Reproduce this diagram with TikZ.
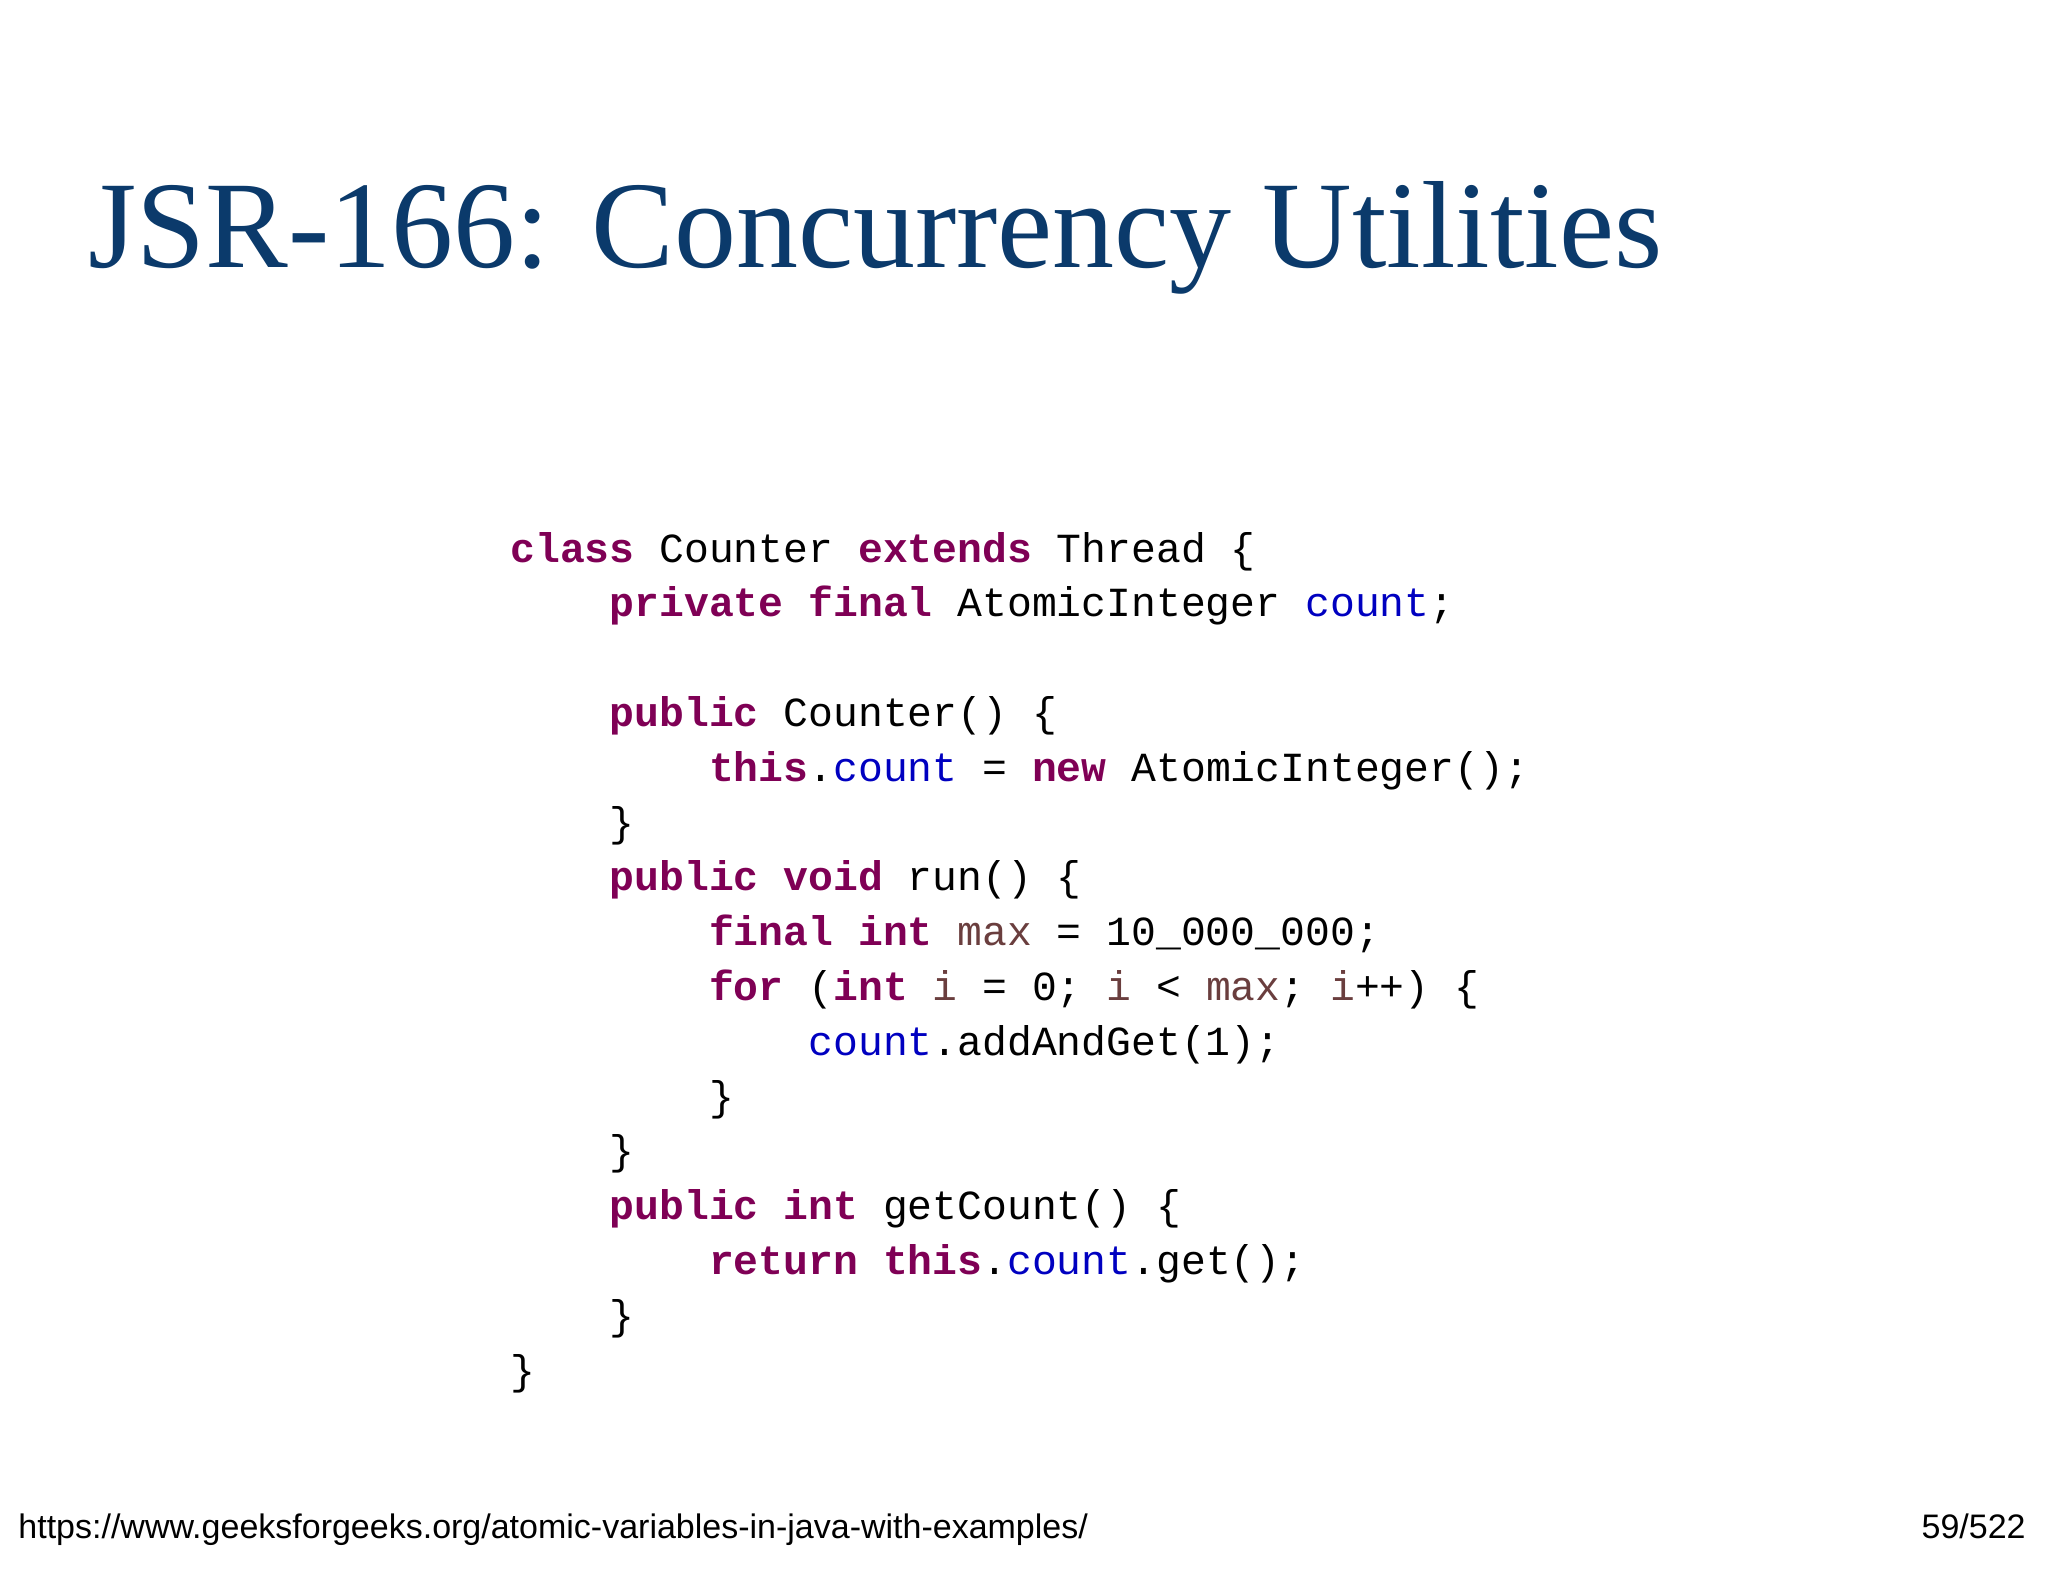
\documentclass[tikz,border=0pt]{standalone}
\usepackage{fontspec}
\setmainfont{Liberation Serif}
\setsansfont{Liberation Sans}
\setmonofont{Liberation Mono}
\definecolor{titleblue}{HTML}{0B3A6B}
\definecolor{kwc}{HTML}{7F0055}
\definecolor{fldc}{HTML}{0000C0}
\definecolor{lvc}{HTML}{6A3E3E}
\newcommand{\kw}[1]{\textcolor{kwc}{\bfseries #1}}
\newcommand{\fld}[1]{\textcolor{fldc}{#1}}
\newcommand{\lv}[1]{\textcolor{lvc}{#1}}
\begin{document}
\begin{tikzpicture}[x=1pt,y=-1pt,
  codeline/.style={anchor=base west,inner sep=0pt,font=\ttfamily\fontsize{20.7}{24}\selectfont}]
\useasboundingbox (0,0) rectangle (1024,791);
\node[anchor=base west,inner sep=0pt,text=titleblue,font=\fontsize{62}{74}\selectfont] (title) at (44,134) {JSR-166: Concurrency Utilities};
\def\cx{255}\def\cw{12.42}\def\cy{281}\def\ch{27.4}
\node[codeline] (l1) at (\cx,\cy) {\kw{class} Counter \kw{extends} Thread \{};
\node[codeline] (l2) at (\cx+4*\cw,\cy+1*\ch) {\kw{private} \kw{final} AtomicInteger \fld{count};};
\node[codeline] (l4) at (\cx+4*\cw,\cy+3*\ch) {\kw{public} Counter() \{};
\node[codeline] (l5) at (\cx+8*\cw,\cy+4*\ch) {\kw{this}.\fld{count} = \kw{new} AtomicInteger();};
\node[codeline] (l6) at (\cx+4*\cw,\cy+5*\ch) {\}};
\node[codeline] (l7) at (\cx+4*\cw,\cy+6*\ch) {\kw{public} \kw{void} run() \{};
\node[codeline] (l8) at (\cx+8*\cw,\cy+7*\ch) {\kw{final} \kw{int} \lv{max} = 10\_000\_000;};
\node[codeline] (l9) at (\cx+8*\cw,\cy+8*\ch) {\kw{for} (\kw{int} \lv{i} = 0; \lv{i} < \lv{max}; \lv{i}++) \{};
\node[codeline] (l10) at (\cx+12*\cw,\cy+9*\ch) {\fld{count}.addAndGet(1);};
\node[codeline] (l11) at (\cx+8*\cw,\cy+10*\ch) {\}};
\node[codeline] (l12) at (\cx+4*\cw,\cy+11*\ch) {\}};
\node[codeline] (l13) at (\cx+4*\cw,\cy+12*\ch) {\kw{public} \kw{int} getCount() \{};
\node[codeline] (l14) at (\cx+8*\cw,\cy+13*\ch) {\kw{return} \kw{this}.\fld{count}.get();};
\node[codeline] (l15) at (\cx+4*\cw,\cy+14*\ch) {\}};
\node[codeline] (l16) at (\cx,\cy+15*\ch) {\}};
\node[anchor=base west,inner sep=0pt,font=\sffamily\fontsize{17}{20}\selectfont] (url) at (9,769) {https://www.geeksforgeeks.org/atomic-variables-in-java-with-examples/};
\node[anchor=base east,inner sep=0pt,font=\sffamily\fontsize{17}{20}\selectfont] (page) at (1013,769) {59/522};
\end{tikzpicture}
\end{document}
